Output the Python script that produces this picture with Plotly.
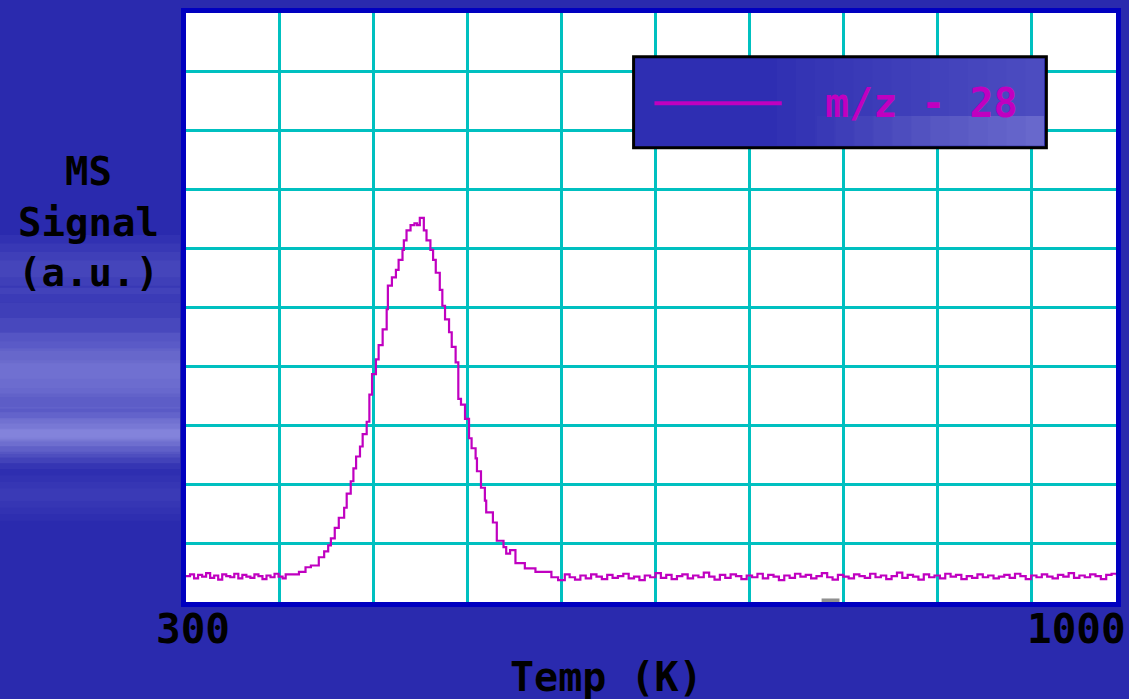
import plotly.graph_objects as go

# ---- data ----
left_temp = [300, 303, 306, 309, 312, 315, 318, 321, 324, 327, 330, 333, 336, 339, 342,
             345, 348, 351, 354, 357, 360, 363, 366, 369, 372]
left_sig = [0.44, 0.47, 0.40, 0.46, 0.43, 0.49, 0.41, 0.45, 0.38, 0.47, 0.44, 0.42, 0.48,
            0.40, 0.46, 0.43, 0.41, 0.47, 0.44, 0.39, 0.45, 0.42, 0.48, 0.43, 0.40]

peak_temp = [374.3, 384.2, 389.1, 393.1, 399.0, 403.0, 406.0, 408.0, 410.9, 413.9, 417.9,
             419.8, 422.8, 424.8, 426.8, 429.7, 431.7, 434.7, 436.7, 438.7, 441.6, 443.6,
             446.6, 449.6, 450.5, 453.5, 456.5, 458.5, 461.4, 462.4, 464.4, 467.4, 470.3,
             472.3, 474.3, 477.3, 479.3, 482.2, 484.2, 486.2, 489.2, 491.1, 493.1, 496.1,
             498.1, 501.0, 503.0, 505.0, 508.0, 511.0, 512.9, 515.9, 516.9, 519.9, 522.8,
             523.8, 528.8, 531.7, 536.7, 538.7, 541.6, 545.6, 552.6, 560.5, 567.4, 572.4,
             577.4, 582.4]
peak_sig = [0.47, 0.51, 0.59, 0.62, 0.76, 0.86, 0.96, 1.08, 1.26, 1.43, 1.60, 1.84, 2.05,
            2.27, 2.47, 2.64, 2.85, 3.06, 3.52, 3.87, 4.12, 4.36, 4.63, 4.97, 5.37, 5.51,
            5.64, 5.81, 5.98, 6.14, 6.31, 6.40, 6.43, 6.40, 6.52, 6.31, 6.14, 5.98, 5.81,
            5.59, 5.30, 5.03, 4.80, 4.58, 4.33, 4.07, 3.45, 3.35, 3.11, 2.78, 2.61, 2.44,
            2.22, 1.94, 1.72, 1.52, 1.35, 1.04, 0.93, 0.82, 0.88, 0.66, 0.57, 0.51, 0.51,
            0.42, 0.37, 0.47]

right_temp = [586, 590, 594, 598, 602, 606, 610, 614, 618, 622,
              626, 630, 634, 638, 642, 646, 650, 654, 658, 662,
              666, 670, 674, 678, 682, 686, 690, 694, 698, 702,
              706, 710, 714, 718, 722, 726, 730, 734, 738, 742,
              746, 750, 754, 758, 762, 766, 770, 774, 778, 782,
              786, 790, 794, 798, 802, 806, 810, 814, 818, 822,
              826, 830, 834, 838, 842, 846, 850, 854, 858, 862,
              866, 870, 874, 878, 882, 886, 890, 894, 898, 902,
              906, 910, 914, 918, 922, 926, 930, 934, 938, 942,
              946, 950, 954, 958, 962, 966, 970, 974, 978, 982,
              986, 990, 994, 998]
right_sig = [0.42, 0.38, 0.45, 0.40, 0.47, 0.43, 0.39, 0.46, 0.41, 0.44,
             0.48, 0.40, 0.43, 0.37, 0.45, 0.42, 0.49, 0.41, 0.46, 0.39,
             0.44, 0.47, 0.40, 0.45, 0.42, 0.50, 0.43, 0.38, 0.46, 0.41,
             0.47, 0.44, 0.39, 0.45, 0.42, 0.48, 0.40, 0.46, 0.43, 0.37,
             0.45, 0.41, 0.48, 0.43, 0.46, 0.40, 0.44, 0.49, 0.42, 0.38,
             0.46, 0.43, 0.40, 0.47, 0.44, 0.41, 0.48, 0.42, 0.45, 0.39,
             0.44, 0.50, 0.41, 0.46, 0.43, 0.38, 0.47, 0.42, 0.45, 0.40,
             0.48, 0.43, 0.46, 0.39, 0.44, 0.41, 0.47, 0.42, 0.45, 0.40,
             0.43, 0.46, 0.41, 0.48, 0.44, 0.39, 0.45, 0.42, 0.47, 0.43,
             0.40, 0.46, 0.43, 0.49, 0.41, 0.45, 0.42, 0.47, 0.44, 0.39,
             0.46, 0.48, 0.45, 0.47]

temps = left_temp + peak_temp + right_temp
signal = left_sig + peak_sig + right_sig

x_range = [300, 993.3]
y_range = [0, 10]
x_grid = [370, 440, 510, 580, 650, 720, 790, 860, 930]
y_grid = [1, 2, 3, 4, 5, 6, 7, 8, 9]
x_tick_labels = ["300", "1000"]
series_name = "m/z - 28"

MAGENTA = "#c000c0"
CYAN = "#00c0c0"
BG = "#2a2aae"
FONT = "DejaVu Sans Mono"

fig = go.Figure()
fig.add_trace(go.Scatter(x=temps, y=signal, mode="lines", name=series_name,
                         line=dict(color=MAGENTA, width=2.2, shape="hv"),
                         showlegend=False))

shapes = []

# plot-area geometry in pixels (for decorative background shapes only)
L, R, T, B = 186, 1121, 8, 602


def px(xp):
    return (xp - L) / (R - L)


def py(yp):
    return (B - yp) / (B - T)


def band(x0p, x1p, y0p, y1p, steps, alpha, layer="below", color="205,205,255"):
    """stacked translucent rectangles -> soft horizontal cloud streak"""
    out = []
    cy = (y0p + y1p) / 2
    hh = (y1p - y0p) / 2
    for i in range(steps):
        f = 1.0 - i / steps
        out.append(dict(type="rect", xref="paper", yref="paper",
                        x0=px(x0p), x1=px(x1p), y0=py(cy + hh * f), y1=py(cy - hh * f),
                        fillcolor="rgba(%s,%.3f)" % (color, alpha),
                        line=dict(width=0), layer=layer))
    return out


def hfade(x0p, x1p, y0p, y1p, steps, alpha, layer="above", color="205,205,255"):
    """rectangles growing lighter towards the right -> horizontal gradient"""
    out = []
    for i in range(steps):
        out.append(dict(type="rect", xref="paper", yref="paper",
                        x0=px(x0p + (x1p - x0p) * i / steps), x1=px(x1p),
                        y0=py(y1p), y1=py(y0p),
                        fillcolor="rgba(%s,%.3f)" % (color, alpha),
                        line=dict(width=0), layer=layer))
    return out


# background clouds: light horizontal streaks on the left side
shapes += band(-60, 180, 232, 300, 4, 0.05)
shapes += band(-60, 180, 285, 468, 6, 0.07)
shapes += band(-60, 180, 330, 405, 4, 0.05)
shapes += band(-60, 180, 405, 462, 5, 0.09)
shapes += band(-60, 180, 418, 445, 3, 0.06)
shapes += band(-60, 180, 468, 520, 4, 0.03)

# legend box drawn by hand (long sample line as in the original)
shapes.append(dict(type="rect", xref="paper", yref="paper", x0=px(636), x1=px(1051),
                   y0=py(144), y1=py(52), fillcolor="#2e2eb2",
                   line=dict(color="black", width=3), layer="above"))
shapes += hfade(780, 1049, 54, 142, 14, 0.018)
shapes += hfade(820, 1049, 112, 142, 12, 0.022)
shapes.append(dict(type="line", xref="paper", yref="paper", x0=px(657), x1=px(785),
                   y0=py(99), y1=py(99), line=dict(color=MAGENTA, width=4), layer="above"))
# small grey mark on bottom edge
shapes.append(dict(type="rect", xref="paper", yref="paper", x0=px(825), x1=px(843),
                   y0=0.0, y1=0.006, fillcolor="#909090", line=dict(width=0), layer="above"))

annotations = [
    dict(text="<b>" + series_name + "</b>", xref="paper", yref="paper", x=px(925), y=py(99),
         showarrow=False, font=dict(family=FONT, size=40, color=MAGENTA),
         xanchor="center", yanchor="middle"),
    dict(text="<b>MS<br>Signal<br>(a.u.)</b>", xref="paper", yref="paper", x=px(88), y=0.645,
         showarrow=False, font=dict(family=FONT, size=39, color="black"),
         xanchor="center", yanchor="middle", align="center"),
    dict(text="<b>Temp (K)</b>", xref="paper", yref="paper", x=0.452, y=-0.128,
         showarrow=False, font=dict(family=FONT, size=40, color="black"),
         xanchor="center", yanchor="middle"),
    dict(text="<b>" + x_tick_labels[0] + "</b>", xref="paper", yref="paper", x=0.0075, y=-0.045,
         showarrow=False, font=dict(family=FONT, size=41, color="black"),
         xanchor="center", yanchor="middle"),
    dict(text="<b>" + x_tick_labels[1] + "</b>", xref="paper", yref="paper", x=1.0125, y=-0.045,
         showarrow=False, font=dict(family=FONT, size=41, color="black"),
         xanchor="right", yanchor="middle"),
]

fig.update_layout(
    width=1129, height=699,
    margin=dict(l=L, r=1129 - R, t=T, b=699 - B),
    paper_bgcolor=BG, plot_bgcolor="white",
    shapes=shapes, annotations=annotations,
    showlegend=False,
)
fig.update_xaxes(range=x_range, tickvals=x_grid, showticklabels=False, ticks="",
                 showgrid=True, gridcolor=CYAN, gridwidth=3, zeroline=False,
                 showline=True, mirror=True, linecolor="#0000c0", linewidth=5)
fig.update_yaxes(range=y_range, tickvals=y_grid, showticklabels=False, ticks="",
                 showgrid=True, gridcolor=CYAN, gridwidth=3, zeroline=False,
                 showline=True, mirror=True, linecolor="#0000c0", linewidth=5)

fig.write_html("out.html", config={"displayModeBar": False})
